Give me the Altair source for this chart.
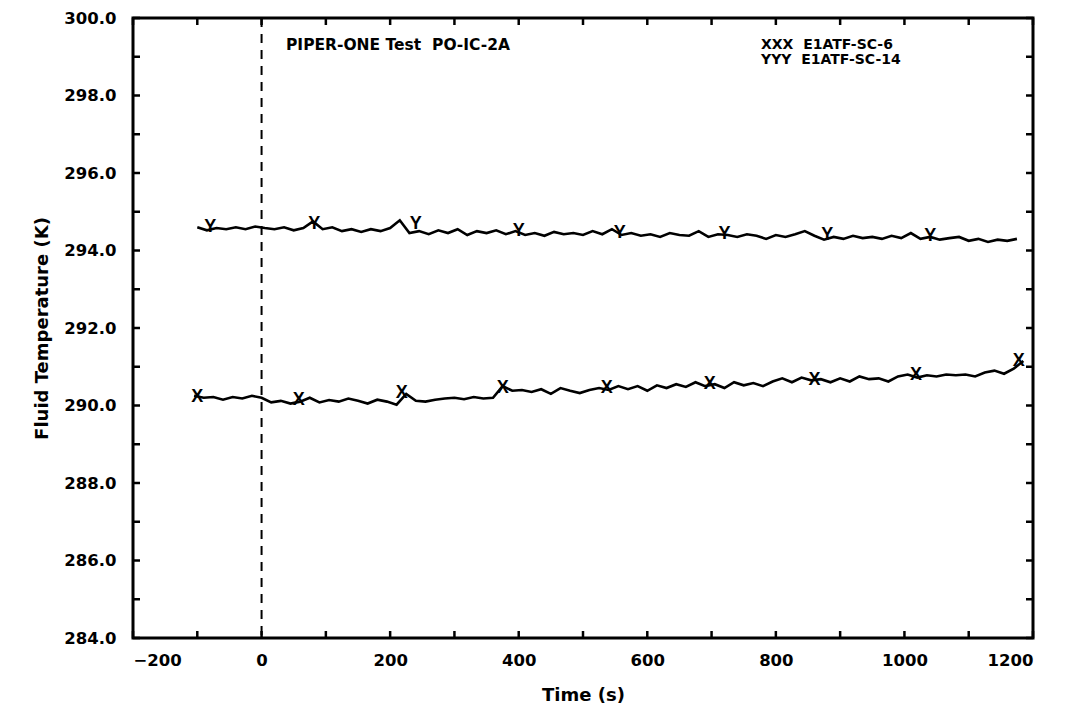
import altair as alt
import pandas as pd

# ---- data ----
lower_t = [-105, -90, -75, -60, -45, -30, -15, 0, 15, 30, 45, 60, 75, 90, 105, 120, 135, 150,
           165, 180, 195, 210, 225, 240, 255, 270, 285, 300, 315, 330, 345, 360,
           375, 390, 405, 420, 435, 450, 465, 480, 495, 510, 525, 540, 555,
           570, 585, 600, 615, 630, 645, 660, 675, 690, 705, 720, 735, 750,
           765, 780, 795, 810, 825, 840, 855, 870, 885, 900, 915, 930, 945,
           960, 975, 990, 1005, 1020, 1035, 1050, 1065, 1080, 1095, 1110, 1125, 1140, 1155, 1170, 1185]
lower_v = [290.25, 290.20, 290.22, 290.15, 290.22, 290.18, 290.25, 290.20,
           290.08, 290.12, 290.05, 290.10, 290.20, 290.08, 290.14, 290.10, 290.18, 290.12,
           290.05, 290.15, 290.10, 290.02, 290.30, 290.12, 290.10, 290.15, 290.18, 290.20, 290.16, 290.22, 290.18, 290.20,
           290.50, 290.38, 290.40, 290.35, 290.42, 290.30, 290.45, 290.38, 290.32, 290.40, 290.45, 290.40, 290.50,
           290.42, 290.50, 290.38, 290.52, 290.45, 290.55, 290.48, 290.60, 290.50, 290.55, 290.45, 290.60, 290.52,
           290.58, 290.50, 290.62, 290.70, 290.60, 290.72, 290.65, 290.68, 290.60, 290.70, 290.62, 290.75, 290.68,
           290.70, 290.62, 290.75, 290.80, 290.72, 290.78, 290.75, 290.80, 290.78, 290.80, 290.75, 290.85, 290.90, 290.82, 290.95, 291.15]

upper_t = [-100, -85, -70, -55, -40, -25, -10, 5, 20, 35, 50, 65, 80, 95, 110, 125, 140, 155,
           170, 185, 200, 215, 230, 245, 260, 275, 290, 305, 320, 335, 350, 365,
           380, 395, 410, 425, 440, 455, 470, 485, 500, 515, 530, 545, 560,
           575, 590, 605, 620, 635, 650, 665, 680, 695, 710, 725, 740, 755,
           770, 785, 800, 815, 830, 845, 860, 875, 890, 905, 920, 935, 950,
           965, 980, 995, 1010, 1025, 1040, 1055, 1070, 1085, 1100, 1115, 1130, 1145, 1160, 1175]
upper_v = [294.60, 294.52, 294.58, 294.55, 294.60, 294.55, 294.62, 294.58,
           294.55, 294.60, 294.52, 294.58, 294.75, 294.55, 294.60, 294.50, 294.55, 294.48,
           294.55, 294.50, 294.58, 294.78, 294.45, 294.50, 294.42, 294.52, 294.45, 294.55, 294.40, 294.50, 294.45, 294.52,
           294.42, 294.50, 294.40, 294.45, 294.38, 294.48, 294.42, 294.45, 294.40, 294.50, 294.42, 294.55, 294.40,
           294.45, 294.38, 294.42, 294.35, 294.45, 294.40, 294.38, 294.50, 294.35, 294.42, 294.40, 294.35, 294.42,
           294.38, 294.30, 294.40, 294.35, 294.42, 294.50, 294.38, 294.28, 294.35, 294.30, 294.38, 294.32, 294.35,
           294.30, 294.38, 294.32, 294.45, 294.30, 294.35, 294.28, 294.32, 294.35, 294.25, 294.30, 294.22, 294.28, 294.25, 294.30]

x_marks_t = [-100, 58, 218, 375, 537, 697, 860, 1018, 1178]
x_marks_v = [290.22, 290.15, 290.32, 290.45, 290.45, 290.55, 290.65, 290.80, 291.15]
y_marks_t = [-80, 82, 240, 400, 557, 720, 880, 1040]
y_marks_v = [294.60, 294.68, 294.68, 294.50, 294.45, 294.42, 294.40, 294.38]

x_label_values = [-200, 0, 200, 400, 600, 800, 1000, 1200]
x_tick_values = [-200, -100, 0, 100, 200, 300, 400, 500, 600, 700, 800, 900, 1000, 1100, 1200]
y_label_values = [284, 286, 288, 290, 292, 294, 296, 298, 300]
y_tick_values = [284, 285, 286, 287, 288, 289, 290, 291, 292, 293, 294, 295, 296, 297, 298, 299, 300]
zero_line = [0]

NB = "\u00a0"
title_text = "PIPER-ONE Test" + NB + NB + "PO-IC-2A"
legend_line_1 = "XXX" + NB + NB + "E1ATF-SC-6"
legend_line_2 = "YYY" + NB + NB + "E1ATF-SC-14"

# ---- layout ----
W, H = 900, 620
FONT = "DejaVu Sans"
MARKFONT = "Liberation Sans"

xscale = alt.Scale(domain=[-200, 1200], nice=False, zero=False)
yscale = alt.Scale(domain=[284, 300], nice=False, zero=False)

xaxis = alt.Axis(values=x_label_values, format="d", title="Time (s)", grid=False, domain=False,
                 ticks=False, labelFontSize=16.5, labelFont=FONT, labelFontWeight="bold",
                 labelPadding=14, titleFontSize=18, titleFont=FONT, titleFontWeight="bold",
                 titlePadding=18, labelColor="black", titleColor="black")
yaxis = alt.Axis(values=y_label_values, format=".1f", title="Fluid Temperature (K)", grid=False,
                 domain=False, ticks=False, labelFontSize=16.5, labelFont=FONT, labelFontWeight="bold",
                 labelPadding=17, titleFontSize=18, titleFont=FONT, titleFontWeight="bold",
                 titlePadding=12, labelColor="black", titleColor="black")

lower_df = pd.DataFrame({"t": lower_t, "v": lower_v})
upper_df = pd.DataFrame({"t": upper_t, "v": upper_v})

base_lower = alt.Chart(lower_df).mark_line(color="black", strokeWidth=2.6).encode(
    x=alt.X("t:Q", scale=xscale, axis=xaxis),
    y=alt.Y("v:Q", scale=yscale, axis=yaxis),
)
base_upper = alt.Chart(upper_df).mark_line(color="black", strokeWidth=2.6).encode(
    x=alt.X("t:Q", scale=xscale),
    y=alt.Y("v:Q", scale=yscale),
)

xm = alt.Chart(pd.DataFrame({"t": x_marks_t, "v": x_marks_v})).mark_text(
    text="X", font=MARKFONT, fontSize=18, fontWeight="bold", color="black", baseline="middle"
).encode(x=alt.X("t:Q", scale=xscale), y=alt.Y("v:Q", scale=yscale))
ym = alt.Chart(pd.DataFrame({"t": y_marks_t, "v": y_marks_v})).mark_text(
    text="Y", font=MARKFONT, fontSize=18, fontWeight="bold", color="black", baseline="middle"
).encode(x=alt.X("t:Q", scale=xscale), y=alt.Y("v:Q", scale=yscale))

zero = alt.Chart(pd.DataFrame({"t": zero_line})).mark_rule(
    color="black", strokeWidth=2, strokeDash=[9, 7]
).encode(x=alt.X("t:Q", scale=xscale))

xt = pd.DataFrame({"t": x_tick_values})
yt = pd.DataFrame({"v": y_tick_values})
tick_style = dict(color="black", strokeWidth=2.5)
ticks_bottom = alt.Chart(xt).mark_rule(**tick_style).encode(
    x=alt.X("t:Q", scale=xscale), y=alt.value(H - 7), y2=alt.value(H))
ticks_top = alt.Chart(xt).mark_rule(**tick_style).encode(
    x=alt.X("t:Q", scale=xscale), y=alt.value(0), y2=alt.value(7))
ticks_left = alt.Chart(yt).mark_rule(**tick_style).encode(
    y=alt.Y("v:Q", scale=yscale), x=alt.value(0), x2=alt.value(7))
ticks_right = alt.Chart(yt).mark_rule(**tick_style).encode(
    y=alt.Y("v:Q", scale=yscale), x=alt.value(W - 7), x2=alt.value(W))

title_mark = alt.Chart(pd.DataFrame({"s": [title_text]})).mark_text(
    font=FONT, fontSize=15.5, fontWeight="bold", align="left", baseline="middle", color="black"
).encode(text="s:N", x=alt.value(153), y=alt.value(27))

legend_1 = alt.Chart(pd.DataFrame({"s": [legend_line_1]})).mark_text(
    font=FONT, fontSize=14, fontWeight="bold", align="left", baseline="middle", color="black"
).encode(text="s:N", x=alt.value(628), y=alt.value(27))
legend_2 = alt.Chart(pd.DataFrame({"s": [legend_line_2]})).mark_text(
    font=FONT, fontSize=14, fontWeight="bold", align="left", baseline="middle", color="black"
).encode(text="s:N", x=alt.value(628), y=alt.value(42))

chart = alt.layer(
    base_lower, base_upper, xm, ym, zero,
    ticks_bottom, ticks_top, ticks_left, ticks_right,
    title_mark, legend_1, legend_2,
).properties(
    width=W, height=H,
    autosize=alt.AutoSizeParams(type="none"),
    padding={"left": 125, "top": 10, "right": 27, "bottom": 73},
    background="white",
).configure_view(stroke="black", strokeWidth=3)

chart.save("out.html", embed_options={"renderer": "svg", "actions": False})
